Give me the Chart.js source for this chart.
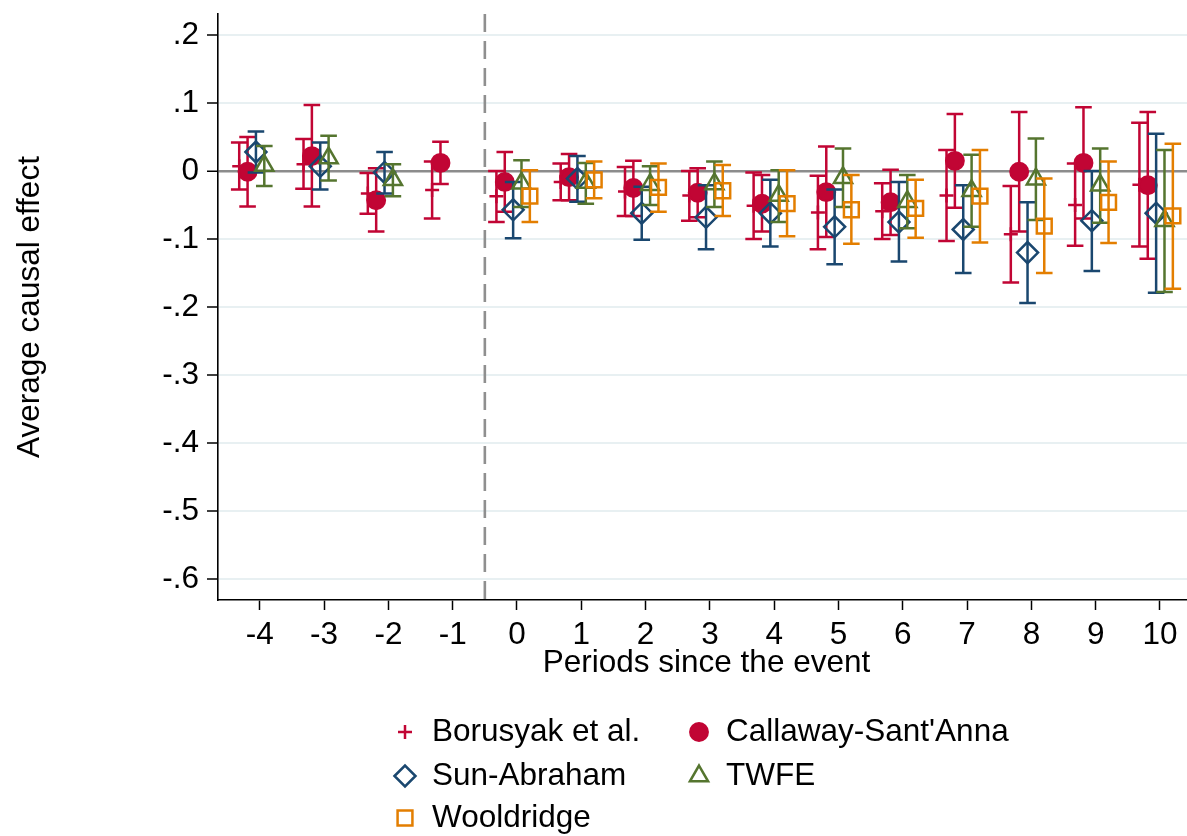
<!DOCTYPE html>
<html>
<head>
<meta charset="utf-8">
<title>Event study estimates</title>
<script src="https://cdn.jsdelivr.net/npm/chart.js@4.4.1/dist/chart.umd.min.js"></script>
<style>
    html, body { margin: 0; padding: 0; background: #fff; overflow: hidden; }
    canvas { display: block; }
</style>
</head>
<body>
<canvas id="es-chart" width="1187" height="836"></canvas>
<script>
// periods relative to the event
const periods = [-4, -3, -2, -1, 0, 1, 2, 3, 4, 5, 6, 7, 8, 9, 10];

// Borusyak et al.
const borusyakEst = [0.007, 0.010, -0.033, -0.028, -0.037, -0.016, -0.030, -0.036, -0.051, -0.061, -0.059, -0.036, -0.093, -0.050, -0.020];
const borusyakLo = [-0.027, -0.026, -0.063, -0.070, -0.075, -0.043, -0.066, -0.073, -0.100, -0.115, -0.100, -0.103, -0.164, -0.110, -0.111];
const borusyakHi = [0.042, 0.047, -0.003, 0.014, 0.000, 0.011, 0.006, 0.000, -0.002, -0.007, -0.018, 0.031, -0.022, 0.011, 0.071];

// Callaway-Sant'Anna
const csEst = [-0.001, 0.022, -0.043, 0.012, -0.016, -0.009, -0.025, -0.032, -0.048, -0.031, -0.046, 0.015, -0.001, 0.012, -0.021];
const csLo = [-0.052, -0.052, -0.089, -0.019, -0.060, -0.043, -0.066, -0.068, -0.089, -0.097, -0.094, -0.054, -0.089, -0.070, -0.129];
const csHi = [0.050, 0.097, 0.004, 0.043, 0.028, 0.025, 0.015, 0.004, -0.006, 0.036, 0.002, 0.084, 0.087, 0.094, 0.087];

// Sun-Abraham (no estimate for the reference period)
const saEst = [0.028, 0.007, -0.002, null, -0.057, -0.011, -0.062, -0.068, -0.062, -0.082, -0.075, -0.086, -0.120, -0.073, -0.062];
const saLo = [-0.002, -0.027, -0.033, null, -0.099, -0.045, -0.101, -0.115, -0.111, -0.137, -0.133, -0.150, -0.194, -0.147, -0.179];
const saHi = [0.058, 0.042, 0.028, null, -0.016, 0.022, -0.023, -0.021, -0.013, -0.027, -0.016, -0.021, -0.046, 0.000, 0.055];

// TWFE
const twfeEst = [0.008, 0.019, -0.013, null, -0.018, -0.017, -0.020, -0.019, -0.036, -0.010, -0.045, -0.029, -0.012, -0.021, -0.073];
const twfeLo = [-0.022, -0.014, -0.037, null, -0.053, -0.048, -0.050, -0.053, -0.075, -0.053, -0.084, -0.082, -0.072, -0.076, -0.178];
const twfeHi = [0.037, 0.052, 0.010, null, 0.016, 0.012, 0.007, 0.014, 0.001, 0.033, -0.006, 0.024, 0.048, 0.033, 0.031];

// Wooldridge (post periods only)
const wooldEst = [null, null, null, null, -0.037, -0.013, -0.024, -0.029, -0.048, -0.057, -0.055, -0.037, -0.081, -0.046, -0.066];
const wooldLo = [null, null, null, null, -0.075, -0.040, -0.060, -0.066, -0.096, -0.107, -0.098, -0.105, -0.150, -0.106, -0.173];
const wooldHi = [null, null, null, null, 0.001, 0.014, 0.011, 0.009, 0.001, -0.006, -0.013, 0.031, -0.011, 0.014, 0.040];

const seriesNames = ['Borusyak et al.', 'Callaway-Sant\'Anna', 'Sun-Abraham', 'TWFE', 'Wooldridge'];
// horizontal shift of each estimator around the period, in periods
const seriesShift = [-0.32, -0.19, -0.06, 0.07, 0.2];

const yTicks = [-0.6, -0.5, -0.4, -0.3, -0.2, -0.1, 0, 0.1, 0.2];
const yTickLabels = ['-.6', '-.5', '-.4', '-.3', '-.2', '-.1', '0', '.1', '.2'];
const xTicks = periods;
const xTickLabels = periods.map(p => String(p));
const xTitle = 'Periods since the event';
const yTitle = 'Average causal effect';

const FONT = '"Liberation Sans", Arial, Helvetica, sans-serif';
const FSIZE = 31.5;

const styles = [
    { color: '#c10534', pointStyle: 'cross', radius: 7, fill: false },
    { color: '#c10534', pointStyle: 'circle', radius: 8.7, fill: true },
    { color: '#1a476f', pointStyle: 'rectRot', radius: 10.5, fill: false },
    { color: '#55752f', pointStyle: 'triangle', radius: 10.5, fill: false },
    { color: '#e37e00', pointStyle: 'rect', radius: 10.5, fill: false }
];

function makeSeries(i, est, lo, hi) {
    const pts = [], los = [], his = [];
    for (let k = 0; k < periods.length; k++) {
        if (est[k] === null) continue;
        pts.push({ x: periods[k] + seriesShift[i], y: est[k] });
        los.push(lo[k]);
        his.push(hi[k]);
    }
    const st = styles[i];
    return {
        label: seriesNames[i],
        data: pts,
        errLo: los,
        errHi: his,
        showLine: false,
        order: 10 - i,
        pointStyle: st.pointStyle,
        pointRadius: st.radius,
        pointHoverRadius: st.radius,
        pointBorderWidth: 2.5,
        pointBorderColor: st.color,
        pointBackgroundColor: st.fill ? st.color : 'rgba(0,0,0,0)'
    };
}

const datasets = [
    makeSeries(0, borusyakEst, borusyakLo, borusyakHi),
    makeSeries(1, csEst, csLo, csHi),
    makeSeries(2, saEst, saLo, saHi),
    makeSeries(3, twfeEst, twfeLo, twfeHi),
    makeSeries(4, wooldEst, wooldLo, wooldHi)
];

// confidence interval caps, drawn just before each series' markers
const errorBars = {
    id: 'errorBars',
    beforeDatasetDraw(chart, args) {
        const ds = chart.data.datasets[args.index];
        const xs = chart.scales.x, ys = chart.scales.y;
        const ctx = chart.ctx;
        const half = 8.3;
        ctx.save();
        ctx.strokeStyle = ds.pointBorderColor;
        ctx.lineWidth = 2.5;
        ctx.lineCap = 'butt';
        for (let k = 0; k < ds.data.length; k++) {
            const px = xs.getPixelForValue(ds.data[k].x);
            const pLo = ys.getPixelForValue(ds.errLo[k]);
            const pHi = ys.getPixelForValue(ds.errHi[k]);
            ctx.beginPath();
            ctx.moveTo(px, pHi);
            ctx.lineTo(px, pLo);
            ctx.moveTo(px - half, pHi);
            ctx.lineTo(px + half, pHi);
            ctx.moveTo(px - half, pLo);
            ctx.lineTo(px + half, pLo);
            ctx.stroke();
        }
        ctx.restore();
    }
};

// dashed line between the pre and post periods
const eventLine = {
    id: 'eventLine',
    beforeDatasetsDraw(chart) {
        const ctx = chart.ctx;
        const a = chart.chartArea;
        const px = chart.scales.x.getPixelForValue(-0.5);
        ctx.save();
        ctx.strokeStyle = '#8f8f8f';
        ctx.lineWidth = 2.6;
        ctx.setLineDash([18, 9]);
        ctx.beginPath();
        ctx.moveTo(px, a.top);
        ctx.lineTo(px, a.bottom);
        ctx.stroke();
        ctx.restore();
    }
};

// x title and the two column legend under the plot
const legendGrid = {
    id: 'legendGrid',
    afterDraw(chart) {
        const ctx = chart.ctx;
        const colX = [405, 699];
        const rowY = [732, 776, 818];
        ctx.save();
        ctx.font = FSIZE + 'px ' + FONT;
        ctx.textBaseline = 'middle';
        ctx.fillStyle = '#000';
        ctx.textAlign = 'center';
        // the plot region runs a little past the right edge of the picture
        ctx.fillText(xTitle, (chart.chartArea.left + chart.chartArea.right) / 2 + 4, 663);
        ctx.textAlign = 'left';
        chart.data.datasets.forEach((ds, i) => {
            const cx = colX[i % 2];
            const cy = rowY[Math.floor(i / 2)];
            ctx.strokeStyle = ds.pointBorderColor;
            ctx.fillStyle = ds.pointBackgroundColor;
            ctx.lineWidth = 2.5;
            Chart.helpers.drawPoint(ctx, {
                pointStyle: ds.pointStyle,
                radius: ds.pointRadius,
                rotation: 0,
                borderWidth: 2.5
            }, cx, cy);
            ctx.fillStyle = '#000';
            ctx.fillText(ds.label, cx + 27, cy);
        });
        ctx.restore();
    }
};

const ctx = document.getElementById('es-chart').getContext('2d');

new Chart(ctx, {
    type: 'scatter',
    data: { datasets: datasets },
    options: {
        responsive: false,
        maintainAspectRatio: false,
        animation: false,
        devicePixelRatio: 1,
        layout: {
            autoPadding: false,
            padding: { top: 14, right: 0, bottom: 151, left: 0 }
        },
        plugins: {
            legend: { display: false },
            tooltip: { enabled: false }
        },
        scales: {
            x: {
                type: 'linear',
                min: -4.65,
                max: 10.42,
                afterBuildTicks: scale => { scale.ticks = xTicks.map(v => ({ value: v })); },
                afterFit: scale => {
                    scale.height = 85;
                    scale.paddingLeft = 0;
                    scale.paddingRight = 0;
                },
                ticks: {
                    autoSkip: false,
                    maxRotation: 0,
                    padding: 6,
                    color: '#000',
                    font: { family: FONT, size: FSIZE },
                    callback: v => xTickLabels[xTicks.indexOf(v)]
                },
                grid: {
                    drawOnChartArea: false,
                    drawTicks: true,
                    tickLength: 10,
                    tickColor: '#000',
                    tickWidth: 1.5
                },
                border: { display: true, color: '#000', width: 1.6 },
                title: { display: false }
            },
            y: {
                type: 'linear',
                min: -0.631,
                max: 0.231,
                afterBuildTicks: scale => { scale.ticks = yTicks.map(v => ({ value: v })); },
                afterFit: scale => {
                    scale.width = 218;
                    scale.paddingTop = 0;
                    scale.paddingBottom = 0;
                },
                ticks: {
                    autoSkip: false,
                    padding: 8,
                    color: '#000',
                    font: { family: FONT, size: FSIZE },
                    callback: v => yTickLabels[yTicks.indexOf(v)]
                },
                grid: {
                    color: c => (c.tick && c.tick.value === 0) ? '#8c8c8c' : '#e8f0f2',
                    lineWidth: c => (c.tick && c.tick.value === 0) ? 2.5 : 2,
                    drawTicks: true,
                    tickLength: 11,
                    tickColor: '#000',
                    tickWidth: 1.5
                },
                border: { display: true, color: '#000', width: 1.6 },
                title: {
                    display: true,
                    text: yTitle,
                    color: '#000',
                    font: { family: FONT, size: FSIZE },
                    padding: { top: 11, bottom: 0 }
                }
            }
        }
    },
    plugins: [errorBars, eventLine, legendGrid]
});
</script>
</body>
</html>
